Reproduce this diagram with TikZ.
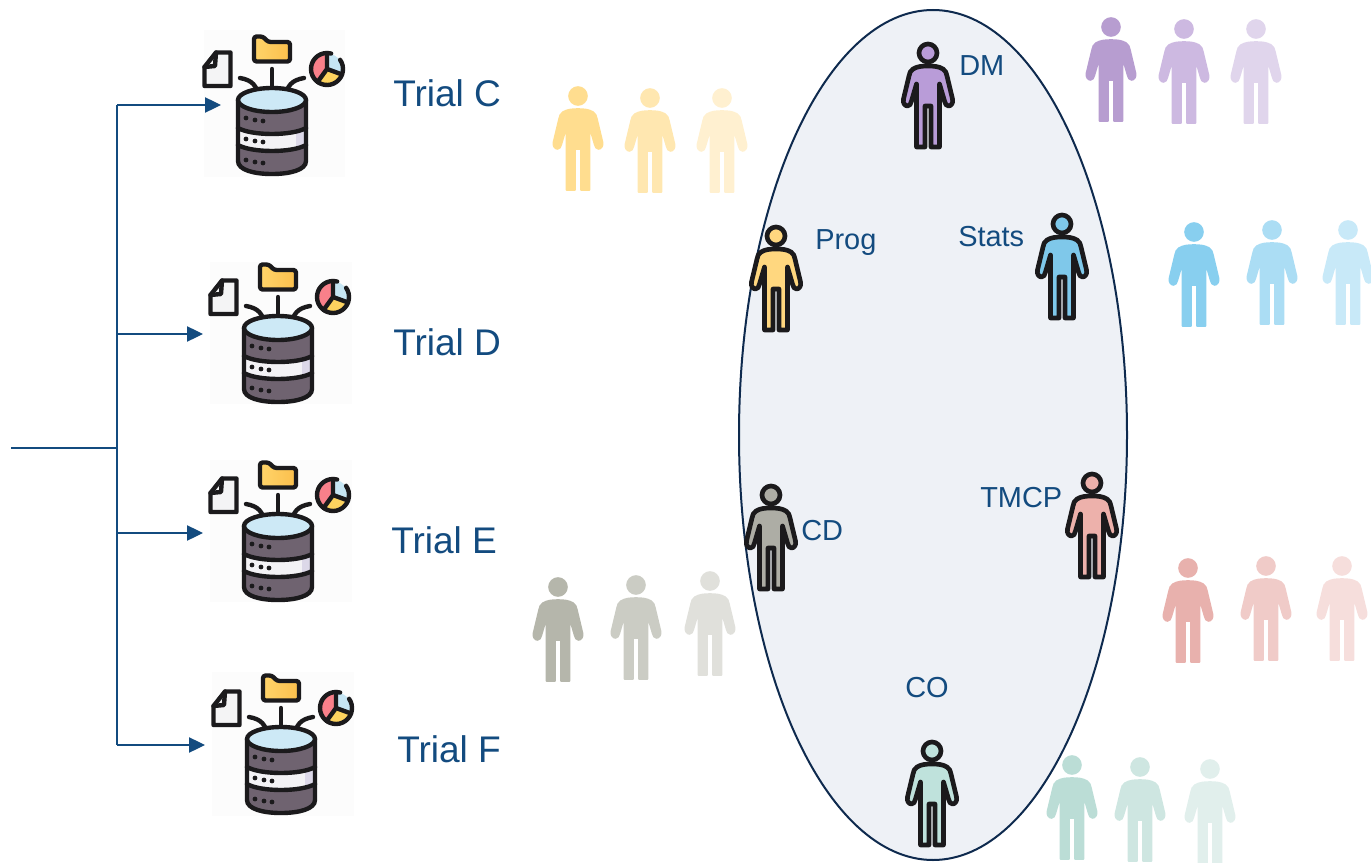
\documentclass[tikz,border=0pt]{standalone}
\usepackage{fontspec}
\setmainfont{Liberation Sans}
\usetikzlibrary{arrows.meta}
\definecolor{navy}{HTML}{134B7F}
\definecolor{rimcol}{HTML}{0E2A4E}
\definecolor{ovalfill}{HTML}{EEF1F6}
\definecolor{ink}{HTML}{1B1A1C}
\definecolor{drum}{HTML}{6F6370}
\definecolor{lid}{HTML}{CDE9F6}
\definecolor{band}{HTML}{F3F2F5}
\definecolor{bandend}{HTML}{DCD8E8}
\definecolor{folderl}{HTML}{FFD46A}
\definecolor{folderr}{HTML}{FBBF4C}
\definecolor{piepink}{HTML}{F9808A}
\definecolor{pieblue}{HTML}{C6E6F4}
\definecolor{pieyel}{HTML}{FDD35F}
\definecolor{paper}{HTML}{F4F4F5}
\definecolor{iconbg}{HTML}{FCFCFC}
\tikzset{
  x=0.75pt,y=-0.75pt,
  conn/.style={draw=navy,line width=1.1pt},
  arrowconn/.style={conn,line width=0.9pt,-{Triangle[length=12pt,width=11.5pt]}},
  triallabel/.style={text=navy,font=\fontsize{27.8}{30}\selectfont,anchor=base west,inner sep=0pt},
  rolelabel/.style={text=navy,font=\fontsize{21.7}{24}\selectfont,anchor=base west,inner sep=0pt},
  iconline/.style={draw=ink,line width=3.3pt,line join=round,line cap=round},
  person/.pic={
    \path[pic actions,line join=round]
      (0,0) circle[radius=9];
    \path[pic actions,line join=round]
      (0,13) .. controls (6,13) and (11,13.5) .. (15,16)
      .. controls (17.5,17.5) and (18.5,20) .. (19,23)
      -- (24.5,46) .. controls (25.5,50) and (23,53) .. (20.5,53)
      .. controls (18.5,53) and (17,51) .. (16.5,48)
      -- (11.5,31) -- (11.5,94) -- (3,94) -- (3,53) -- (-3,53) -- (-3,94) -- (-11.5,94) -- (-11.5,31)
      -- (-16.5,48) .. controls (-17,51) and (-18.5,53) .. (-20.5,53)
      .. controls (-23,53) and (-25.5,50) .. (-24.5,46)
      -- (-19,23) .. controls (-18.5,20) and (-17.5,17.5) .. (-15,16)
      .. controls (-11,13.5) and (-6,13) .. (0,13) -- cycle;
  },
  lead/.code={\definecolor{gc}{HTML}{#1}\tikzset{fill=gc,draw=ink,line width=3.5pt}},
  ghost/.code={\definecolor{gc}{HTML}{#1}\tikzset{fill=gc,draw=gc,line width=1.2pt}},
  database/.pic={
    % origin: centre of the cylinder lid
    % wires
    \draw[iconline] (0,-3) -- (0,-31);
    \draw[iconline] (-14,-2) .. controls (-14,-14) and (-20,-20) .. (-32,-22);
    \draw[iconline] (14,-2) .. controls (14,-14) and (20,-20) .. (32,-22);
    % drum
    \path[fill=drum] (-34,0) -- (-34,61) .. controls (-34,70) and (-18,74) .. (0,74)
       .. controls (18,74) and (34,70) .. (34,61) -- (34,0) -- cycle;
    \path[fill=band] (-34,28) .. controls (-20,36) and (20,36) .. (34,28) -- (34,45) .. controls (20,53) and (-20,53) .. (-34,45) -- cycle;
    \path[fill=bandend] (24,31.5) .. controls (28,30.5) and (31,29.5) .. (34,28) -- (34,45) .. controls (31,46.5) and (28,47.5) .. (24,48.5) -- cycle;
    \draw[iconline] (-34,0) -- (-34,61) .. controls (-34,70) and (-18,74) .. (0,74)
       .. controls (18,74) and (34,70) .. (34,61) -- (34,0);
    \draw[iconline] (-34,28) .. controls (-20,36) and (20,36) .. (34,28);
    \draw[iconline] (-34,45) .. controls (-20,53) and (20,53) .. (34,45);
    \draw[iconline,fill=lid] (0,0) ellipse[x radius=34,y radius=12];
    \foreach \yy in {19,40,61}{
      \fill[ink] (-26,\yy-1) circle[radius=2.4] (-17,\yy+1) circle[radius=2.4] (-9,\yy+2) circle[radius=2.4];
    }
    % folder
    \draw[iconline,rounded corners=2pt,left color=folderl,right color=folderr] (-18,-63.5) -- (-9,-63.5) -- (-4,-58) -- (18,-58) -- (18,-38.5) -- (-18,-38.5) -- cycle;
    % document
    \draw[iconline,fill=paper] (-56,-47.5) -- (-41.5,-47.5) -- (-41.5,-14) -- (-67.5,-14) -- (-67.5,-33) -- cycle;
    \draw[iconline] (-67.5,-33) -- (-57,-34) -- (-56,-47.5);
    % pie chart
    \begin{scope}[shift={(55,-31)}]
      \fill[pieyel] (0,0) -- (20:15.5) arc[start angle=20,end angle=126,radius=15.5] -- cycle;
      \fill[piepink] (0,0) -- (126:15.5) arc[start angle=126,end angle=270,radius=15.5] -- cycle;
      \fill[pieblue] (0,0) -- (270:15.5) arc[start angle=270,end angle=380,radius=15.5] -- cycle;
      \draw[iconline] (20:16) -- (0,0) -- (126:16) (0,0) -- (270:16);
      \draw[iconline] (-35:16) arc[start angle=-35,end angle=285,radius=16];
    \end{scope}
  }
}
\begin{document}
\begin{tikzpicture}
\useasboundingbox (0,0) rectangle (1371,863);
% oval
\node[draw=none,inner sep=0pt] (ovalcentre) at (933,435) {};
\path[fill=ovalfill,draw=rimcol,line width=1.5pt] (ovalcentre) ellipse[x radius=194,y radius=425];
% icon backgrounds
\path[fill=iconbg] (204,30) rectangle (345,177);
\path[fill=iconbg] (210,262) rectangle (352,404);
\path[fill=iconbg] (210,460) rectangle (352,602);
\path[fill=iconbg] (212,672) rectangle (354,816);
% connector points
\coordinate (stem) at (11,448);
\coordinate (fork) at (117,448);
\coordinate (busC) at (117,105);
\coordinate (busD) at (117,334);
\coordinate (busE) at (117,533);
\coordinate (busF) at (117,745);
\coordinate (tipC) at (221,105);
\coordinate (tipD) at (203,334);
\coordinate (tipE) at (203,533);
\coordinate (tipF) at (205,745);
\draw[conn] (stem) -- (fork);
\draw[conn] (busC) -- (busF);
\draw[arrowconn] (busC) -- (tipC);
\draw[arrowconn] (busD) -- (tipD);
\draw[arrowconn] (busE) -- (tipE);
\draw[arrowconn] (busF) -- (tipF);
% databases
\pic at (272,100) {database};
\pic at (278,328) {database};
\pic at (278,526) {database};
\pic at (281,739) {database};
% trial labels
\node[triallabel] (trialC) at (393,107) {Trial C};
\node[triallabel] (trialD) at (393,355) {Trial D};
\node[triallabel] (trialE) at (391,553) {Trial E};
\node[triallabel] (trialF) at (397,762) {Trial F};
% ghost people
\pic[ghost=FFDD8F] at (578,96) {person};
\pic[ghost=FFE7B0] at (650,98) {person};
\pic[ghost=FFF0D0] at (722,98) {person};
\pic[ghost=B79DD0] at (1111,27) {person};
\pic[ghost=CDB9E1] at (1184,29) {person};
\pic[ghost=E0D5EC] at (1256,29) {person};
\pic[ghost=88CFEF] at (1194,232) {person};
\pic[ghost=ABDDF4] at (1272,230) {person};
\pic[ghost=C8E9F8] at (1348,230) {person};
\pic[ghost=B5B6AB] at (558,587) {person};
\pic[ghost=CBCCC4] at (636,585) {person};
\pic[ghost=E0E0DB] at (710,581) {person};
\pic[ghost=E8B1AD] at (1188,568) {person};
\pic[ghost=F0CBC8] at (1266,566) {person};
\pic[ghost=F6DEDC] at (1342,566) {person};
\pic[ghost=BBDDD6] at (1072,765) {person};
\pic[ghost=CEE6E1] at (1140,767) {person};
\pic[ghost=E1EFEC] at (1210,769) {person};
% lead people
\pic[lead=B99CD8] at (928,53) {person};
\pic[lead=FFD77F] at (776,236) {person};
\pic[lead=7FC8EA] at (1062,224) {person};
\pic[lead=ADADA5] at (771,495) {person};
\pic[lead=EDB1AB] at (1092,483) {person};
\pic[lead=BFE2DC] at (932,751) {person};
% role labels
\node[rolelabel] (dm) at (959,76) {DM};
\node[rolelabel] (prog) at (815,249) {Prog};
\node[rolelabel] (stats) at (958,246) {Stats};
\node[rolelabel] (tmcp) at (980,507) {TMCP};
\node[rolelabel] (cd) at (801,540) {CD};
\node[rolelabel] (co) at (905,697) {CO};
\end{tikzpicture}
\end{document}
